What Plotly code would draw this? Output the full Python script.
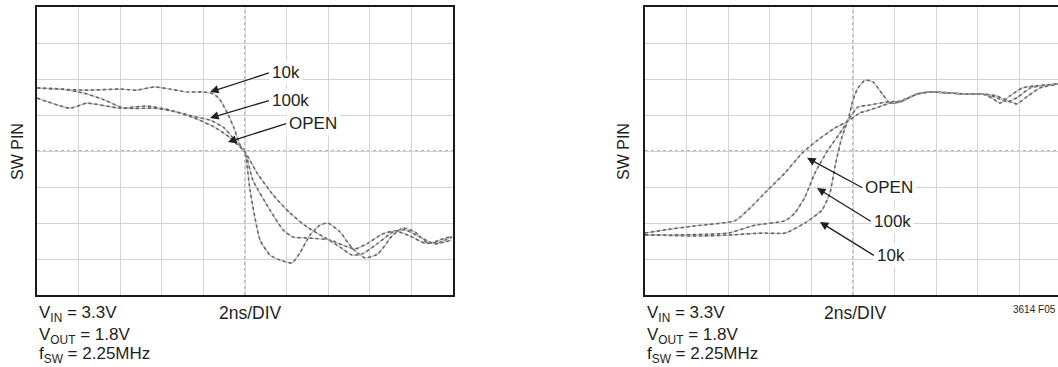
import plotly.graph_objects as go

# ---- Falling edge at the SW pin (time in ns, amplitude in scope divisions) ----
fall_10k_t = [0, 0.96, 2.40, 3.99, 4.81, 5.63, 6.39, 7.21, 8.03, 8.51, 8.80, 9.13, 9.47, 9.76, 10.0,
              10.24, 10.72, 11.20, 11.68, 12.26, 12.64, 13.13, 13.6, 13.99, 14.57, 15.14, 15.77,
              16.39, 17.07, 17.6, 18.17, 18.8, 19.38, 19.95]
fall_10k_v = [5.75, 5.72, 5.69, 5.72, 5.69, 5.78, 5.72, 5.64, 5.64, 5.58, 5.42, 5.08, 4.64, 4.17, 3.97,
              2.92, 1.53, 1.11, 0.97, 0.89, 1.17, 1.67, 1.94, 2.0, 1.75, 1.31, 1.03,
              1.14, 1.64, 1.86, 1.75, 1.44, 1.53, 1.64]

fall_100k_t = [0, 1.2, 2.3, 3.23, 4.18, 5.63, 6.73, 7.69, 8.32, 9.0, 9.47, 10.0, 10.38, 11.2, 11.83,
               12.31, 13.13, 14.09, 14.81, 15.29, 15.91, 16.59, 17.21, 17.93, 18.65, 19.38, 19.95]
fall_100k_v = [5.75, 5.72, 5.6, 5.42, 5.19, 5.19, 5.08, 4.94, 4.86, 4.64, 4.33, 3.97, 3.19, 2.36, 1.81,
               1.61, 1.58, 1.53, 1.36, 1.28, 1.44, 1.69, 1.78, 1.64, 1.44, 1.47, 1.61]

fall_open_t = [0, 1.59, 2.40, 3.99, 5.29, 6.39, 7.55, 8.51, 9.23, 10.0, 10.58, 11.35, 12.16, 12.98,
               13.94, 14.57, 15.14, 15.63, 16.35, 17.12, 17.69, 18.41, 19.13, 19.95]
fall_open_v = [5.47, 5.19, 5.33, 5.19, 5.25, 5.14, 4.92, 4.67, 4.39, 3.97, 3.39, 2.78, 2.28, 1.89,
               1.56, 1.33, 1.11, 1.14, 1.42, 1.75, 1.81, 1.61, 1.42, 1.53]

# ---- Rising edge at the SW pin ----
rise_10k_t = [0, 2.64, 4.18, 5.63, 6.73, 7.69, 8.51, 8.89, 9.13, 9.47, 9.76, 10.0, 10.24, 10.58, 10.96,
              11.44, 11.78, 12.26, 13.08, 13.7, 14.66, 15.48, 16.25, 16.92, 17.45, 17.88, 18.41,
              18.99, 19.86]
rise_10k_v = [1.67, 1.64, 1.67, 1.72, 1.72, 2.0, 2.36, 2.83, 3.56, 4.39, 4.86, 5.42, 5.75, 5.97, 5.92,
              5.56, 5.33, 5.36, 5.58, 5.64, 5.61, 5.58, 5.58, 5.53, 5.39, 5.31, 5.53,
              5.75, 5.86]

rise_100k_t = [0, 1.59, 3.99, 5.29, 6.73, 7.21, 7.69, 8.17, 8.8, 9.47, 9.76, 10.24, 10.82, 11.63,
               12.26, 13.08, 13.7, 14.66, 15.48, 16.25, 16.83, 17.4, 17.93, 18.51, 19.23, 19.86]
rise_100k_v = [1.67, 1.67, 1.72, 1.94, 2.06, 2.28, 2.72, 3.39, 4.03, 4.58, 4.86, 5.22, 5.28, 5.36,
               5.39, 5.58, 5.64, 5.61, 5.58, 5.58, 5.50, 5.36, 5.50, 5.75, 5.83, 5.86]

rise_open_t = [0, 0.96, 2.40, 4.33, 4.95, 5.91, 6.73, 7.55, 8.32, 9.13, 9.76, 10.34, 10.82, 11.78,
               12.26, 13.08, 13.7, 14.66, 15.48, 16.25, 16.68, 17.07, 17.55, 18.13, 18.75, 19.86]
rise_open_v = [1.72, 1.81, 1.92, 2.06, 2.36, 2.92, 3.39, 3.94, 4.31, 4.64, 4.83, 5.06, 5.14, 5.33,
               5.36, 5.58, 5.64, 5.61, 5.58, 5.58, 5.47, 5.33, 5.53, 5.75, 5.81, 5.86]

series_names = ["10k", "100k", "OPEN"]
test_conditions = ["V<sub>IN</sub> = 3.3V", "V<sub>OUT</sub> = 1.8V", "f<sub>SW</sub> = 2.25MHz"]
time_scale = "2ns/DIV"
y_title = "SW PIN"
fig_code = "3614 F05"

W, H = 1058, 367
FONT = "Liberation Sans, Arial, sans-serif"
INK = "#231f20"
GRID = "#d4d4d4"


def px_x(p):
    return p / W


def px_y(p):
    return 1 - p / H


fig = go.Figure()


def add_scope_trace(t, v, xa, ya):
    # faint continuous trace with a beaded dotted overlay, like a sampled scope trace
    fig.add_trace(go.Scatter(x=t, y=v, xaxis=xa, yaxis=ya, mode="lines",
                             line=dict(color="#b8b8b8", width=1.1, shape="spline", smoothing=0.5),
                             hoverinfo="skip", showlegend=False))
    fig.add_trace(go.Scatter(x=t, y=v, xaxis=xa, yaxis=ya, mode="lines",
                             line=dict(color="#666666", width=1.6, dash="dot", shape="spline", smoothing=0.5),
                             hoverinfo="skip", showlegend=False))


for t, v in [(fall_10k_t, fall_10k_v), (fall_100k_t, fall_100k_v), (fall_open_t, fall_open_v)]:
    add_scope_trace(t, v, "x", "y")
for t, v in [(rise_10k_t, rise_10k_v), (rise_100k_t, rise_100k_v), (rise_open_t, rise_open_v)]:
    add_scope_trace(t, v, "x2", "y2")

ydom = [px_y(295), px_y(7)]
left_dom = [px_x(37), px_x(453)]
right_dom = [px_x(645), 1.0]
right_end = (W - 645) / 20.8  # the right scope is clipped at the page edge

axis_common = dict(showgrid=True, gridcolor=GRID, gridwidth=1, zeroline=False,
                   showticklabels=False, ticks="", linecolor="#1a1a1a", linewidth=2)

fig.update_layout(
    width=W, height=H, margin=dict(l=0, r=0, t=0, b=0),
    paper_bgcolor="white", plot_bgcolor="white",
    font=dict(family=FONT, color=INK, size=17),
    xaxis=dict(domain=left_dom, range=[0, 20], dtick=2, showline=True, mirror=True, **axis_common),
    yaxis=dict(domain=ydom, range=[0, 8], dtick=1, showline=True, mirror=True, **axis_common),
    xaxis2=dict(domain=right_dom, range=[0, right_end], dtick=2, showline=True, mirror=True,
                anchor="y2", **axis_common),
    yaxis2=dict(domain=ydom, range=[0, 8], dtick=1, showline=True, mirror=False,
                anchor="x2", **axis_common),
)

# center graticule lines (dotted)
shapes = []
for xr, yr, xend in [("x", "y", 20), ("x2", "y2", right_end)]:
    shapes.append(dict(type="line", xref=xr, yref=yr, x0=10, x1=10, y0=0, y1=8,
                       line=dict(color="#a0a0a0", width=1.5, dash="dot"), layer="below"))
    shapes.append(dict(type="line", xref=xr, yref=yr, x0=0, x1=xend, y0=4, y1=4,
                       line=dict(color="#a0a0a0", width=1.5, dash="dot"), layer="below"))
fig.update_layout(shapes=shapes)

ann = []
# series labels with pointer arrows: (name, arrow head t, head v, label t, label v)
left_labels = [("10k", 8.32, 5.64, 11.15, 6.17),
               ("100k", 8.32, 4.92, 11.15, 5.40),
               ("OPEN", 9.18, 4.25, 11.98, 4.76)]
right_labels = [("OPEN", 7.79, 3.81, 10.45, 2.98),
                ("100k", 8.27, 2.97, 10.85, 2.05),
                ("10k", 8.41, 2.03, 11.0, 1.10)]
for labels, xr, yr in [(left_labels, "x", "y"), (right_labels, "x2", "y2")]:
    for name, hx, hy, lx, ly in labels:
        ann.append(dict(xref=xr, yref=yr, x=hx, y=hy, axref=xr, ayref=yr, ax=lx, ay=ly,
                        text=name, showarrow=True, arrowhead=2, arrowsize=1.3, arrowwidth=1.3,
                        arrowcolor=INK, standoff=0, xanchor="left", yanchor="middle",
                        bgcolor="white", borderpad=2, font=dict(size=17)))

# axis title and footer text for both panels
for cx, left_px, scale_px in [(17, 37, 217), (623, 645, 822)]:
    ann.append(dict(xref="paper", yref="paper", x=px_x(cx), y=px_y(152), text=y_title,
                    textangle=-90, showarrow=False, xanchor="center", yanchor="middle",
                    font=dict(size=16)))
    for i, line in enumerate(test_conditions):
        ann.append(dict(xref="paper", yref="paper", x=px_x(left_px), y=px_y([314, 336, 355][i]),
                        text=line, showarrow=False, xanchor="left", yanchor="middle",
                        font=dict(size=17)))
    ann.append(dict(xref="paper", yref="paper", x=px_x(scale_px), y=px_y(313), text=time_scale,
                    showarrow=False, xanchor="left", yanchor="middle", font=dict(size=17.5)))

ann.append(dict(xref="paper", yref="paper", x=1.0, y=px_y(309), text=fig_code, showarrow=False,
                xanchor="right", yanchor="middle", font=dict(size=10)))
fig.update_layout(annotations=ann)

fig.write_html("out.html")
